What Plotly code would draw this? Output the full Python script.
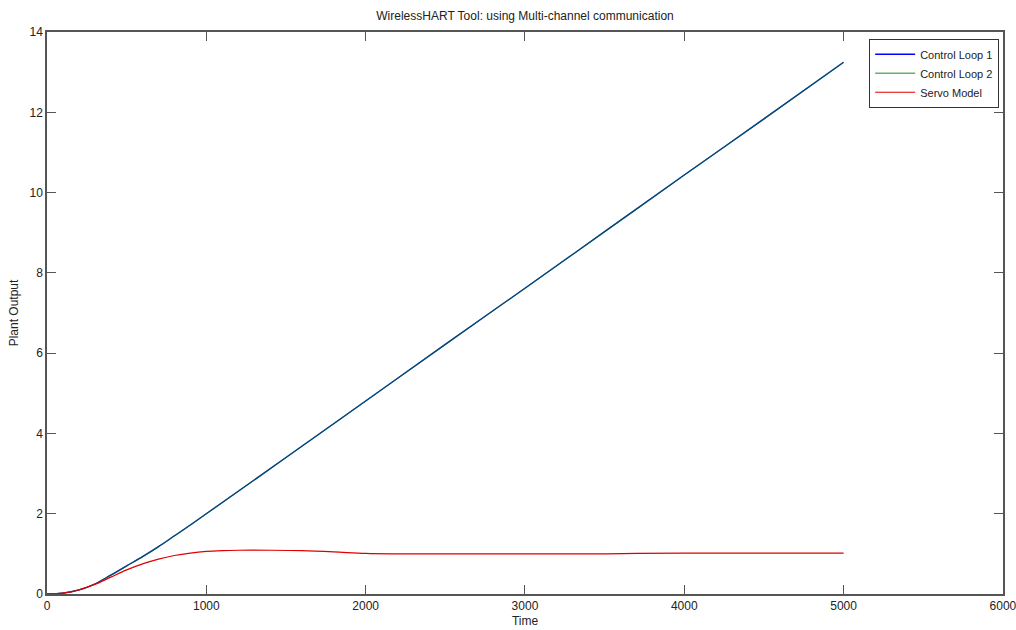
import plotly.graph_objects as go

time_loop = [0, 100, 200, 300, 400, 500, 600, 700, 800, 900, 1000, 1500, 2000, 2500, 3000, 3500, 4000, 4500, 5000]
loop1 = [0, 0.02, 0.1, 0.25, 0.47, 0.7, 0.93, 1.18, 1.45, 1.72, 2.0, 3.4, 4.81, 6.22, 7.62, 9.03, 10.44, 11.84, 13.25]
loop2 = [0, 0.02, 0.1, 0.25, 0.47, 0.7, 0.93, 1.18, 1.45, 1.72, 2.0, 3.4, 4.81, 6.22, 7.62, 9.03, 10.44, 11.84, 13.25]

time_servo = [0, 100, 200, 300, 400, 500, 600, 700, 800, 900, 1000, 1100, 1200, 1400, 1600, 1800, 2000, 2200, 2500, 3000, 3500, 3700, 4000, 4500, 5000]
servo = [0, 0.02, 0.1, 0.24, 0.42, 0.6, 0.75, 0.87, 0.96, 1.02, 1.06, 1.08, 1.09, 1.09, 1.08, 1.05, 1.01, 1.0, 1.0, 1.0, 1.0, 1.01, 1.02, 1.02, 1.02]

x_ticks = [0, 1000, 2000, 3000, 4000, 5000, 6000]
y_ticks = [0, 2, 4, 6, 8, 10, 12, 14]

FONT = "Liberation Sans, Arial, sans-serif"

fig = go.Figure()
fig.add_trace(go.Scatter(x=time_loop, y=loop1, mode="lines", name="Control Loop 1",
                         line=dict(color="#0000ff", width=1.3, shape="spline")))
fig.add_trace(go.Scatter(x=time_loop, y=loop2, mode="lines", name="Control Loop 2",
                         line=dict(color="#008000", width=1.3, shape="spline"), opacity=0.6))
fig.add_trace(go.Scatter(x=time_servo, y=servo, mode="lines", name="Servo Model",
                         line=dict(color="#e00000", width=1.2, shape="spline")))

axis_common = dict(
    showgrid=False, zeroline=False, showline=True, linecolor="#555555", linewidth=1.5,
    mirror="ticks", ticks="inside", ticklen=9, tickcolor="#555555", tickwidth=1,
    automargin=False, ticklabeloverflow="allow",
    tickfont=dict(family=FONT, size=12, color="#222222"),
)

fig.update_layout(
    width=1016, height=630,
    margin=dict(l=47, r=13, t=32, b=36, autoexpand=False),
    paper_bgcolor="white", plot_bgcolor="white",
    title=dict(text="WirelessHART Tool: using Multi-channel communication",
               x=0.5, xref="paper", xanchor="center", y=1 - 16 / 630, yanchor="middle",
               automargin=False,
               font=dict(family=FONT, size=12, color="#222222")),
    xaxis=dict(range=[0, 6000.5], tickvals=x_ticks, ticktext=[str(v) for v in x_ticks],
               title=dict(text="Time", standoff=4,
                          font=dict(family=FONT, size=12, color="#222222")),
               **axis_common),
    yaxis=dict(range=[0, 14.005], tickvals=y_ticks, ticktext=[str(v) for v in y_ticks],
               title=dict(text="Plant Output", standoff=8,
                          font=dict(family=FONT, size=12, color="#222222")),
               **axis_common),
    legend=dict(x=0.996, y=0.988, xanchor="right", yanchor="top",
                bgcolor="white", bordercolor="#333333", borderwidth=1,
                font=dict(family=FONT, size=11, color="#222222"),
                tracegroupgap=0, itemwidth=40),
    showlegend=True,
)

fig.write_html("out.html",
               config={"displayModeBar": False},
               post_script="document.body.style.margin='0';document.body.style.overflow='hidden';")
